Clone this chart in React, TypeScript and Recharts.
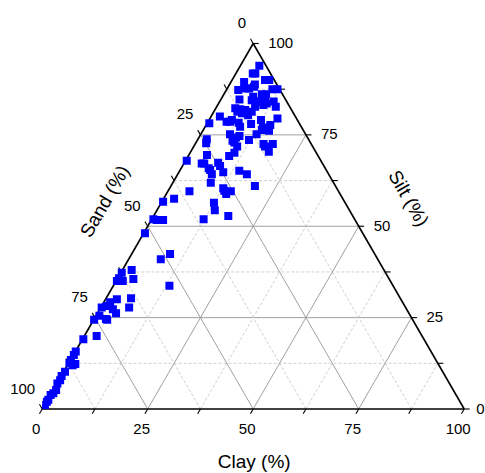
import React from "react";
import { ScatterChart, Scatter, XAxis, YAxis, ZAxis, ReferenceLine, ReferenceDot } from "recharts";

// ternary samples: clay % and silt % (sand = 100 - clay - silt)
const clay = [
  4.5, 4.0, 4.6, 7.8, 8.8, 3.1, 4.4, 5.2, 6.1, 6.0, 2.8, 10.8, 12.0, 9.0, 10.0, 10.2, 7.3, 7.4, 4.4, 8.8,
  9.6, 11.4, 10.8, 9.1, 12.8, 14.0, 4.6, 5.9, 6.9, 7.2, 5.6, 8.6, 9.0, 2.1, 12.3, 16.0, 4.4, 5.2, 5.4, 8.3,
  13.9, 15.2, 6.9, 0.5, 7.4, 10.5, 13.8, 15.7, 9.4, 8.8, 8.4, 9.1, 10.3, 13.2, 12.2, 16.2, 16.9, 18.4, 18.5, 2.1,
  2.5, 10.5, 9.7, 4.3, 0.3, 4.2, 4.8, 6.5, 7.1, 8.1, 8.0, 8.9, 10.5, 14.1, 16.4, 9.0, 19.9, 5.1, 12.7, 13.3,
  14.2, 14.9, 2.5, 0.3, 12.5, 13.7, 17.7, 12.3, 0.4, 1.3, 2.8, 0.3, 9.1, 7.6, 2.2, 0.2, 0.3, 0.2, 1.6, 3.8,
  13.3, 2.7, 5.9, 1.5, 1.2, 3.1, 4.4, 6.7, 0.2, 0.8, 2.8, 0.1, 3.2, 2.9, 0.2, 0.1, 0.1, 0.1, 0.2, 1.2,
  1.7, 0.3, 0.1, 0.3, 0.1, 0.7, 0.5, 0.1, 0.2, 0.1, 0.1, 0.1,
];
const silt = [
  93.9, 91.8, 91.8, 90.0, 90.0, 89.5, 87.7, 87.7, 88.2, 88.8, 87.3, 87.5, 87.5, 86.1, 86.1, 85.2, 85.4, 84.5, 84.7, 84.1,
  84.1, 83.6, 83.2, 82.7, 84.1, 82.7, 82.3, 82.0, 80.9, 81.8, 81.3, 80.4, 81.3, 80.0, 79.1, 79.5, 78.6, 78.6, 79.1, 77.2,
  76.3, 77.7, 75.2, 78.2, 78.3, 78.0, 77.0, 76.1, 74.7, 74.3, 73.4, 72.9, 71.8, 75.2, 73.6, 72.5, 71.8, 72.5, 70.4, 73.8,
  72.7, 70.1, 69.2, 69.5, 67.9, 67.2, 67.2, 65.9, 65.4, 64.2, 67.4, 66.5, 64.8, 65.2, 64.2, 61.9, 61.0, 59.6, 60.4, 59.7,
  58.8, 59.6, 57.5, 56.7, 56.4, 54.4, 52.8, 51.9, 51.9, 51.7, 51.7, 48.1, 42.4, 41.0, 38.0, 37.3, 35.8, 35.0, 35.0, 35.6,
  33.7, 30.0, 30.3, 29.2, 28.2, 27.3, 26.2, 27.8, 27.8, 25.5, 24.6, 24.4, 24.4, 20.0, 19.1, 15.7, 14.8, 13.4, 12.5, 12.0,
  12.3, 10.2, 9.0, 7.9, 7.0, 5.2, 4.3, 3.8, 2.5, 2.0, 1.1, 0.2,
];

const tickValues = [0, 25, 50, 75, 100];
const gridSteps = [12.5, 25, 37.5, 50, 62.5, 75, 87.5];
const tickSteps = [0, 12.5, 25, 37.5, 50, 62.5, 75, 87.5, 100];

const H = Math.sqrt(3) / 2;
const toXY = (c: number, t: number) => ({ x: c + t / 2, y: t * H });

const data = clay.map((c, i) => ({ clay: c, silt: silt[i], sand: 100 - c - silt[i], ...toXY(c, silt[i]) }));

const FONT = "'Liberation Sans', Arial, sans-serif";
const TL = 1.3; // tick length in data units

type Seg = { a: { x: number; y: number }; b: { x: number; y: number }; major: boolean };

const grid: Seg[] = [];
gridSteps.forEach((k) => {
  const major = k % 25 === 0;
  grid.push({ a: toXY(0, k), b: toXY(100 - k, k), major });
  grid.push({ a: toXY(k, 0), b: toXY(k, 100 - k), major });
  grid.push({ a: toXY(100 - k, 0), b: toXY(0, 100 - k), major });
});

const ticks: Seg[] = [];
tickSteps.forEach((k) => {
  const c = toXY(k, 0);
  ticks.push({ a: c, b: { x: c.x - 0.5 * TL, y: c.y - H * TL }, major: true });
  const s = toXY(0, 100 - k);
  ticks.push({ a: s, b: { x: s.x - 0.5 * TL, y: s.y + H * TL }, major: true });
  const t = toXY(100 - k, k);
  ticks.push({ a: t, b: { x: t.x + TL, y: t.y }, major: true });
});

const textAt = (dx: number, dy: number, label: string, anchor: string, size = 15, rotate = 0) =>
  (p: any) => (
    <text
      x={p.cx + dx}
      y={p.cy + dy}
      textAnchor={anchor as any}
      dominantBaseline="central"
      fontSize={size}
      fontFamily={FONT}
      fill="#000"
      transform={rotate ? `rotate(${rotate} ${p.cx + dx} ${p.cy + dy})` : undefined}
    >
      {label}
    </text>
  );

export default function App() {
  const corners = [toXY(0, 0), toXY(100, 0), toXY(0, 100)];
  return (
    <div style={{ position: "absolute", left: 0, top: 0, background: "#fff" }}>
      <ScatterChart width={485} height={473} margin={{ top: 43.5, right: 20.8, bottom: 64, left: 42.2 }}>
        <XAxis type="number" dataKey="x" domain={[0, 100]} allowDataOverflow hide />
        <YAxis type="number" dataKey="y" domain={[0, 100 * H]} allowDataOverflow hide />
        <ZAxis range={[22, 22]} />
        {grid.map((g, i) => (
          <ReferenceLine
            key={"g" + i}
            segment={[g.a, g.b]}
            ifOverflow="visible"
            stroke={g.major ? "#a0a0a0" : "#cfcfcf"}
            strokeWidth={1}
            strokeDasharray={g.major ? undefined : "3 2"}
          />
        ))}
        {ticks.map((g, i) => (
          <ReferenceLine key={"t" + i} segment={[g.a, g.b]} ifOverflow="visible" stroke="#000" strokeWidth={1.1} />
        ))}
        {corners.map((p, i) => (
          <ReferenceLine
            key={"e" + i}
            segment={[p, corners[(i + 1) % 3]]}
            ifOverflow="visible"
            stroke="#000"
            strokeWidth={1.6}
          />
        ))}
        <Scatter data={data} fill="#0000ff" shape="square" isAnimationActive={false} />
        {tickValues.map((k) => (
          <ReferenceDot key={"cl" + k} {...toXY(k, 0)} r={0} ifOverflow="visible" shape={textAt(-6, 19, String(k), "middle")} />
        ))}
        {tickValues.map((k) => (
          <ReferenceDot key={"sl" + k} {...toXY(0, 100 - k)} r={0} ifOverflow="visible" shape={textAt(-7, -21, String(k), "end")} />
        ))}
        {tickValues.map((k) => (
          <ReferenceDot key={"si" + k} {...toXY(100 - k, k)} r={0} ifOverflow="visible" shape={textAt(k === 0 ? 12 : 15, -1, String(k), "start")} />
        ))}
        <ReferenceDot {...toXY(50, 0)} r={0} ifOverflow="visible" shape={textAt(1, 52, "Clay (%)", "middle", 19)} />
        <ReferenceDot {...toXY(0, 50)} r={0} ifOverflow="visible" shape={textAt(-43, -25, "Sand (%)", "middle", 19, -60)} />
        <ReferenceDot {...toXY(50, 50)} r={0} ifOverflow="visible" shape={textAt(50, -28, "Silt (%)", "middle", 19, 60)} />
      </ScatterChart>
    </div>
  );
}
